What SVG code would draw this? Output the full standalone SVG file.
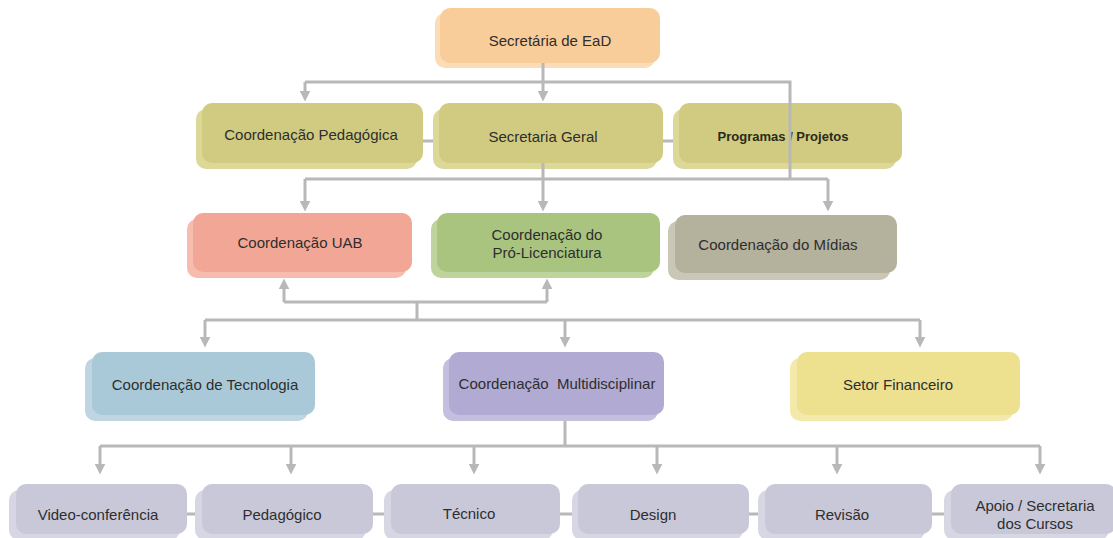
<svg xmlns="http://www.w3.org/2000/svg" width="1113" height="538" viewBox="0 0 1113 538">
<style>
text{font-family:"Liberation Sans",Arial,sans-serif;font-size:15px;fill:#2e2e2e;text-anchor:middle}
.b{font-weight:bold;font-size:13px;fill:#2a2a1a}
.ln{fill:none;stroke:#b8b8b8;stroke-width:3}
.ar{marker-end:url(#ah)}
rect{rx:10;ry:10}
.f0{fill:#f8cd9a}.k0{fill:#fbdcb6}
.f1{fill:#d0cb80}.k1{fill:#dcd898}
.f2{fill:#f2a796}.k2{fill:#f6bdae}
.f3{fill:#a9c47f}.k3{fill:#bfd49c}
.f4{fill:#b4b19d}.k4{fill:#cac7b6}
.f5{fill:#a9c9d8}.k5{fill:#bfd6e2}
.f6{fill:#b1aad3}.k6{fill:#c5bfdf}
.f7{fill:#ede08f}.k7{fill:#f3e9ab}
.f8{fill:#c9c8d9}.k8{fill:#d7d6e3}
</style>
<defs>
<marker id="ah" viewBox="0 0 10 10" markerWidth="11" markerHeight="11" markerUnits="userSpaceOnUse" refX="4" refY="5" orient="auto">
<path d="M0,0 L10,5 L0,10 z" fill="#b8b8b8"/>
</marker>
</defs>
<rect width="1113" height="538" fill="#ffffff" style="rx:0;ry:0"/>
<g id="n-secretaria-ead"><rect class="k0" x="435" y="13" width="220" height="55"/><rect class="f0" x="440" y="8" width="220" height="55"/><text x="550" y="46">Secretária de EaD</text></g>
<g id="n-coord-pedagogica"><rect class="k1" x="196" y="109" width="221" height="60"/><rect class="f1" x="202" y="103" width="221" height="60"/><text x="311" y="140">Coordenação Pedagógica</text></g>
<g id="n-secretaria-geral"><rect class="k1" x="433" y="109" width="224" height="60"/><rect class="f1" x="439" y="103" width="224" height="60"/><text x="543" y="142">Secretaria Geral</text></g>
<g id="n-programas"><rect class="k1" x="673" y="109" width="223" height="60"/><rect class="f1" x="679" y="103" width="223" height="60"/><text class="b" x="783" y="141">Programas / Projetos</text></g>
<g id="n-uab"><rect class="k2" x="187" y="219" width="219" height="59"/><rect class="f2" x="193" y="213" width="219" height="59"/><text x="300" y="248">Coordenação UAB</text></g>
<g id="n-pro-lic"><rect class="k3" x="431" y="219" width="223" height="59"/><rect class="f3" x="437" y="213" width="223" height="59"/><text x="547" y="240">Coordenação do</text><text x="547" y="258">Pró-Licenciatura</text></g>
<g id="n-midias"><rect class="k4" x="668" y="221" width="222" height="59"/><rect class="f4" x="675" y="215" width="222" height="58"/><text x="778" y="250">Coordenação do Mídias</text></g>
<g id="n-tecnologia"><rect class="k5" x="85" y="358" width="223" height="63"/><rect class="f5" x="92" y="352" width="223" height="63"/><text x="205" y="390">Coordenação de Tecnologia</text></g>
<g id="n-multi"><rect class="k6" x="443" y="358" width="215" height="63"/><rect class="f6" x="449" y="352" width="215" height="63"/><text x="557" y="389" xml:space="preserve">Coordenação  Multidisciplinar</text></g>
<g id="n-financeiro"><rect class="k7" x="790" y="358" width="223" height="63"/><rect class="f7" x="797" y="352" width="223" height="63"/><text x="898" y="390">Setor Financeiro</text></g>
<g id="n-video"><rect class="k8" x="9" y="490" width="171" height="50"/><rect class="f8" x="16" y="484" width="171" height="50"/><text x="98" y="520">Video-conferência</text></g>
<g id="n-pedagogico"><rect class="k8" x="195" y="490" width="171" height="50"/><rect class="f8" x="202" y="484" width="171" height="50"/><text x="282" y="520">Pedagógico</text></g>
<g id="n-tecnico"><rect class="k8" x="384" y="490" width="169" height="50"/><rect class="f8" x="391" y="484" width="169" height="50"/><text x="469" y="519">Técnico</text></g>
<g id="n-design"><rect class="k8" x="572" y="490" width="171" height="50"/><rect class="f8" x="578" y="484" width="171" height="50"/><text x="653" y="520">Design</text></g>
<g id="n-revisao"><rect class="k8" x="758" y="490" width="167" height="50"/><rect class="f8" x="765" y="484" width="167" height="50"/><text x="842" y="520">Revisão</text></g>
<g id="n-apoio"><rect class="k8" x="944" y="490" width="165" height="50"/><rect class="f8" x="951" y="484" width="165" height="50"/><text x="1035" y="511">Apoio / Secretaria</text><text x="1035" y="529">dos Cursos</text></g>
<g id="connectors">
<path class="ln" d="M543,63 V82 M305,82 H790 V179 M543,163 V179 M305,179 H828"/>
<path class="ln ar" d="M305,82 V95"/>
<path class="ln ar" d="M543,82 V95"/>
<path class="ln ar" d="M305,179 V205"/>
<path class="ln ar" d="M543,179 V205"/>
<path class="ln ar" d="M828,179 V205"/>
<path class="ln" d="M423,141 H433 M663,141 H673"/>
<path class="ln" d="M284,302 H547 M417,302 V320 M205,320 H920"/>
<path class="ln ar" d="M284,302 V285"/>
<path class="ln ar" d="M547,302 V285"/>
<path class="ln ar" d="M205,320 V341"/>
<path class="ln ar" d="M565,320 V341"/>
<path class="ln ar" d="M920,320 V341"/>
<path class="ln" d="M565,421 V446 M100,446 H1040"/>
<path class="ln ar" d="M100,446 V468"/>
<path class="ln ar" d="M291,446 V468"/>
<path class="ln ar" d="M474,446 V468"/>
<path class="ln ar" d="M657,446 V468"/>
<path class="ln ar" d="M837,446 V468"/>
<path class="ln ar" d="M1040,446 V468"/>
<path class="ln" d="M187,514 H195 M373,514 H384 M560,514 H572 M749,514 H758 M932,514 H944"/>
</g>
</svg>
